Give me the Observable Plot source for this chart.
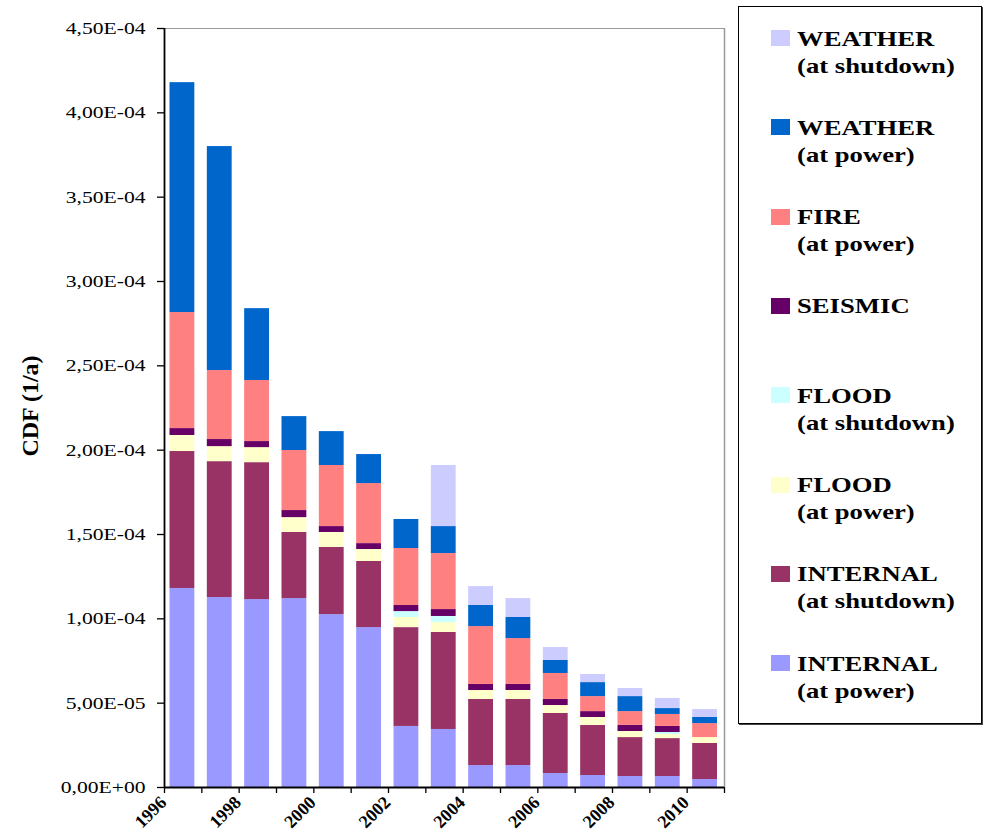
<!DOCTYPE html>
<html>
<head>
<meta charset="utf-8">
<script src="https://cdn.jsdelivr.net/npm/d3@7"></script>
<script src="https://cdn.jsdelivr.net/npm/@observablehq/plot@0.6"></script>
<style>
  html, body { margin: 0; padding: 0; background: #fff; overflow: hidden; }
  #wrap { position: relative; width: 984px; height: 839px; }
  #chart { position: absolute; left: 0; top: 0; }
  #legend {
    position: absolute; left: 738px; top: 6px; width: 242px; height: 716px;
    border: 1.5px solid #000; box-shadow: 1px 1px 0 #444; background: #fff;
    font-family: "Liberation Serif", "Times New Roman", serif; font-weight: bold;
  }
  .sw { position: absolute; left: 32px; width: 19px; height: 16px; }
  .lab { position: absolute; left: 58px; font-size: 21px; line-height: 27px; white-space: nowrap;
         transform: scaleX(1.27); transform-origin: 0 0; color: #000; }
</style>
</head>
<body>
<div id="wrap">
  <div id="chart"></div>
  <div id="legend"></div>
</div>
<script>
// ---- data (values in units of 1e-4 per year) ----
const UNIT = 1e-4;
const years = [1996, 1997, 1998, 1999, 2000, 2001, 2002, 2003, 2004, 2005, 2006, 2007, 2008, 2009, 2010];
const internalPower    = [1.180, 1.126, 1.114, 1.120, 1.025, 0.948, 0.362, 0.344, 0.130, 0.130, 0.083, 0.071, 0.065, 0.065, 0.047];
const internalShutdown = [0.812, 0.806, 0.812, 0.392, 0.398, 0.392, 0.586, 0.575, 0.392, 0.392, 0.356, 0.297, 0.231, 0.225, 0.214];
const floodPower       = [0.095, 0.089, 0.089, 0.088, 0.089, 0.071, 0.060, 0.059, 0.053, 0.053, 0.047, 0.047, 0.036, 0.024, 0.035];
const floodShutdown    = [0, 0, 0, 0, 0, 0, 0.035, 0.036, 0, 0, 0, 0, 0, 0.012, 0];
const seismic          = [0.041, 0.042, 0.036, 0.042, 0.035, 0.035, 0.036, 0.041, 0.036, 0.036, 0.036, 0.035, 0.036, 0.036, 0];
const fire             = [0.688, 0.409, 0.362, 0.356, 0.362, 0.356, 0.338, 0.332, 0.343, 0.272, 0.154, 0.089, 0.082, 0.071, 0.083];
const weatherPower     = [1.363, 1.328, 0.426, 0.201, 0.201, 0.172, 0.172, 0.160, 0.125, 0.125, 0.077, 0.083, 0.089, 0.035, 0.036];
const weatherShutdown  = [0, 0, 0, 0, 0, 0, 0, 0.362, 0.112, 0.112, 0.077, 0.048, 0.048, 0.060, 0.047];

// stacking order: bottom to top
const seriesKeys = ["INTERNAL_P", "INTERNAL_S", "FLOOD_P", "FLOOD_S", "SEISMIC", "FIRE_P", "WEATHER_P", "WEATHER_S"];
const seriesValues = [internalPower, internalShutdown, floodPower, floodShutdown, seismic, fire, weatherPower, weatherShutdown];
const seriesColors = ["#9999FF", "#993366", "#FFFFCC", "#CCFFFF", "#660066", "#FF8080", "#0066CC", "#CCCCFF"];

// legend order: top to bottom
const legendItems = [
  ["WEATHER", "(at shutdown)", "#CCCCFF"],
  ["WEATHER", "(at power)", "#0066CC"],
  ["FIRE", "(at power)", "#FF8080"],
  ["SEISMIC", "", "#660066"],
  ["FLOOD", "(at shutdown)", "#CCFFFF"],
  ["FLOOD", "(at power)", "#FFFFCC"],
  ["INTERNAL", "(at shutdown)", "#993366"],
  ["INTERNAL", "(at power)", "#9999FF"]
];

const yTicks = [0, 0.5e-4, 1.0e-4, 1.5e-4, 2.0e-4, 2.5e-4, 3.0e-4, 3.5e-4, 4.0e-4, 4.5e-4];
const xBoundaries = [1996, 1997, 1998, 1999, 2000, 2001, 2002, 2003, 2004, 2005, 2006, 2007, 2008, 2009, 2010, 2011];
const xLabelYears = [1996, 1998, 2000, 2002, 2004, 2006, 2008, 2010];
const yTitle = "CDF (1/a)";

// ---- table ----
const table = [];
years.forEach((yr, i) => {
  seriesKeys.forEach((k, j) => {
    table.push({year: yr, series: k, value: seriesValues[j][i] * UNIT});
  });
});

const fmt = d => {
  const [m, e] = d.toExponential(2).split("e");
  const sign = e[0] === "-" ? "-" : "+";
  return m.replace(".", ",") + "E" + sign + String(Math.abs(+e)).padStart(2, "0");
};

const chart = Plot.plot({
  width: 735,
  height: 839,
  marginLeft: 164,
  marginRight: 11,
  marginTop: 28,
  marginBottom: 52,
  style: {fontFamily: "'Liberation Serif', 'Times New Roman', serif", background: "transparent", color: "#000"},
  x: {domain: [1996, 2011]},
  y: {domain: [0, 4.5e-4]},
  color: {domain: seriesKeys, range: seriesColors},
  marks: [
    Plot.rectY(table, {
      x1: d => d.year, x2: d => d.year + 1, y: "value", fill: "series",
      insetLeft: 5.5, insetRight: 7
    }),
    Plot.ruleY([4.5e-4], {stroke: "#999", strokeWidth: 1.2}),
    Plot.ruleX([2011], {stroke: "#999", strokeWidth: 1.5}),
    Plot.axisY({ticks: yTicks, tickFormat: fmt, tickSize: 7, tickPadding: 12, fontSize: 17, label: null, stroke: "#000", strokeWidth: 1.3}),
    Plot.axisX({ticks: xBoundaries, tickFormat: () => "", tickSize: 6, label: null, stroke: "#000", strokeWidth: 1.3}),
    Plot.ruleX([1996], {stroke: "#000", strokeWidth: 1.8}),
    Plot.ruleY([0], {stroke: "#000", strokeWidth: 1.8}),
    Plot.text(xLabelYears, {
      x: d => d, text: d => String(d), frameAnchor: "bottom",
      textAnchor: "end", lineAnchor: "top", rotate: -45,
      dx: -6, dy: 7, fontSize: 18, fontWeight: "bold"
    }),
    Plot.text([yTitle], {
      text: d => d, frameAnchor: "left", rotate: -90, dx: -134, dy: -2,
      fontSize: 24, fontWeight: "bold", textAnchor: "middle"
    })
  ]
});
document.getElementById("chart").appendChild(chart);

// stretch y tick labels horizontally (the reference is horizontally widened)
chart.querySelectorAll('g[aria-label="y-axis tick label"] text').forEach(t => {
  const len = t.getComputedTextLength();
  if (len > 0) {
    t.setAttribute("textLength", (len * 1.27).toFixed(1));
    t.setAttribute("lengthAdjust", "spacingAndGlyphs");
  }
});

// ---- legend ----
const legend = document.getElementById("legend");
legendItems.forEach(([l1, l2, col], i) => {
  const top = 23 + i * 89.3;      // swatch top inside legend box
  const sw = document.createElement("div");
  sw.className = "sw";
  sw.style.top = top + "px";
  sw.style.background = col;
  legend.appendChild(sw);
  const lab = document.createElement("div");
  lab.className = "lab";
  lab.style.top = (top - 4.5) + "px";
  lab.innerHTML = l1 + (l2 ? "<br>" + l2 : "");
  legend.appendChild(lab);
});
</script>
</body>
</html>
